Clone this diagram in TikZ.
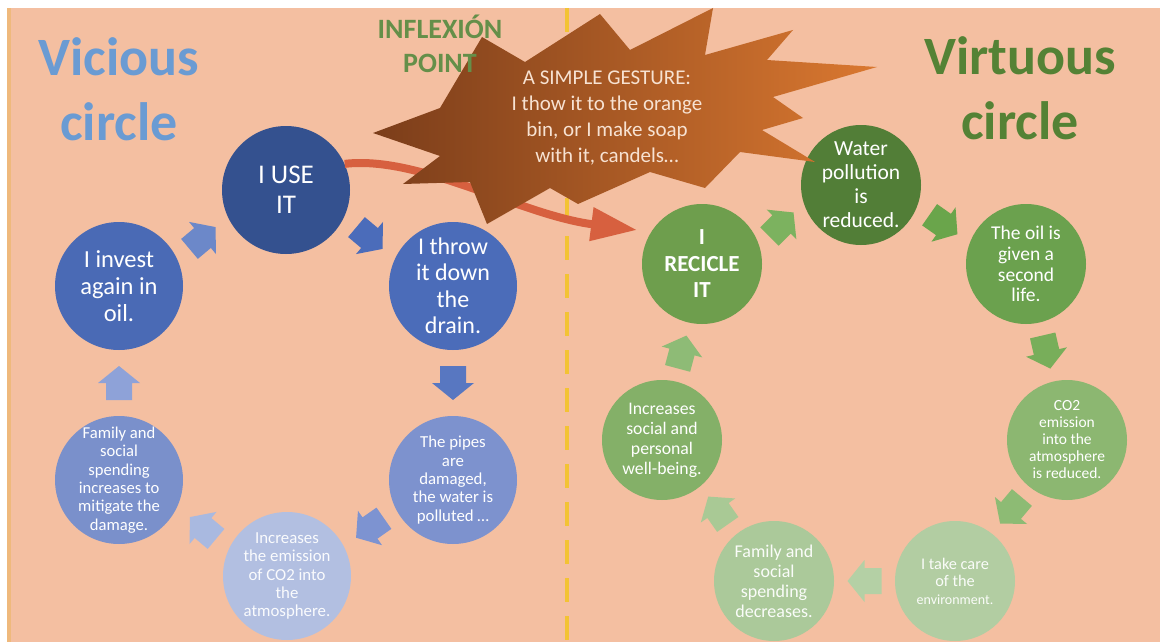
\documentclass[tikz,border=0pt]{standalone}
\usepackage{fontspec}
\setmainfont{Carlito}
\usetikzlibrary{arrows.meta,calc}
\definecolor{bg}{HTML}{F4BFA1}
\definecolor{stripc}{HTML}{EFB97C}
\definecolor{dashc}{HTML}{F3C334}
\definecolor{redc}{HTML}{D7603F}
\definecolor{blueT}{HTML}{6A9BD3}
\definecolor{greenT}{HTML}{548235}
\definecolor{starL}{HTML}{7B3D1A}
\definecolor{starM}{HTML}{B8612A}
\definecolor{starR}{HTML}{DA7830}
\definecolor{starT}{HTML}{F7E2D2}
% left circles
\definecolor{cUse}{HTML}{34518F}
\definecolor{cInv}{HTML}{4A6AB5}
\definecolor{cThr}{HTML}{4B6CB9}
\definecolor{cPip}{HTML}{7D92CE}
\definecolor{cEmi}{HTML}{B2BFE1}
\definecolor{cFam}{HTML}{7A90CB}
\definecolor{aIU}{HTML}{6C88C9}
\definecolor{aUT}{HTML}{4B6CBA}
\definecolor{aTP}{HTML}{5877C1}
\definecolor{aPE}{HTML}{7D93D1}
\definecolor{aEF}{HTML}{A9B9E0}
\definecolor{aFI}{HTML}{8EA2D8}
% right circles
\definecolor{cRec}{HTML}{6E9E4D}
\definecolor{cWat}{HTML}{527E37}
\definecolor{cOil}{HTML}{6BA14E}
\definecolor{cCOt}{HTML}{8CB771}
\definecolor{cTak}{HTML}{B2CDA2}
\definecolor{cFR}{HTML}{ABC99A}
\definecolor{cInc}{HTML}{84B068}
\definecolor{aRW}{HTML}{7CB25F}
\definecolor{aWO}{HTML}{6AA54B}
\definecolor{aOC}{HTML}{78AE5A}
\definecolor{aCT}{HTML}{8DBB74}
\definecolor{aTF}{HTML}{B4D0A5}
\definecolor{aFIr}{HTML}{A9C995}
\definecolor{aIR}{HTML}{8EBB76}

\tikzset{
  bigbub/.style={circle, fill=#1, minimum size=128, inner sep=-30pt, text=white, align=center},
  smallbub/.style={circle, fill=#1, minimum size=120, inner sep=-30pt, text=white, align=center},
  barrow/.pic={\fill[#1] (-17,-13) -- (0,-13) -- (0,-21) -- (17,0) -- (0,21) -- (0,13) -- (-17,13) -- cycle;},
  fs/.style 2 args={font=\fontsize{#1}{#2}\selectfont},
  fsb/.style 2 args={font=\fontsize{#1}{#2}\selectfont\bfseries},
}

\begin{document}
\begin{tikzpicture}[x=1pt,y=-1pt]
\useasboundingbox (0,0) rectangle (1160,642);
\fill[white] (0,0) rectangle (1160,642);
\fill[bg] (7,8) rectangle (1160,642);
\fill[stripc] (7,8) rectangle (11,642);

% dashed divider
\coordinate (dtop) at (567,8);
\coordinate (dbot) at (567,642);
\draw[dashc, line width=4, dash pattern=on 24pt off 14pt] (dtop) -- (dbot);

% left (vicious) circles
\node[bigbub=cUse, fs={27}{30}] (use) at (286,190) {I USE\\IT};
\node[bigbub=cInv, fs={24.5}{27}] (inv) at (119,286) {I invest\\again in\\oil.};
\node[bigbub=cThr, fs={24}{26.5}] (thr) at (453,286) {I throw\\it down\\the\\drain.};
\node[bigbub=cPip, fs={16.8}{18.3}] (pip) at (453,480) {The pipes\\are\\damaged,\\the water is\\polluted \dots};
\node[bigbub=cEmi, fs={16.8}{18.3}, text=white!94!cEmi] (emi) at (287,576) {Increases\\the emission\\of CO2 into\\the\\atmosphere.};
\node[bigbub=cFam, fs={16.6}{18.3}] (fam) at (119,480) {Family and\\social\\spending\\increases to\\mitigate the\\damage.};

% right (virtuous) circles
\node[smallbub=cRec, fsb={23}{26.5}] (rec) at (702,264) {I\\RECICLE\\IT};
\node[smallbub=cWat, fs={21.5}{24}] (wat) at (861,185) {Water\\pollution\\is\\reduced.};
\node[smallbub=cOil, fs={19.5}{20.7}] (oil) at (1026,264) {The oil is\\given a\\second\\life.};
\node[smallbub=cCOt, fs={15.5}{17}] (cot) at (1067,440) {CO2\\emission\\into the\\atmosphere\\is reduced.};
\node[smallbub=cTak, fs={16.3}{17.5}, text=white!94!cTak] (tak) at (955,581) {I take care\\of the\\{\fontsize{14}{17.5}\selectfont environment.}};
\node[smallbub=cFR, fs={18}{20}, text=white!94!cFR] (fre) at (774,581) {Family and\\social\\spending\\decreases.};
\node[smallbub=cInc, fs={17.7}{20}] (inc) at (662,440) {Increases\\social and\\personal\\well-being.};

% block arrows, left cycle
\pic[rotate=40] at ($(inv)!.5!(use)$) {barrow=aIU};
\pic[rotate=-40] at ($(use)!.5!(thr)$) {barrow=aUT};
\pic[rotate=-90] at ($(thr)!.5!(pip)$) {barrow=aTP};
\pic[rotate=215] at ($(pip)!.5!(emi)$) {barrow=aPE};
\pic[rotate=140] at ($(emi)!.5!(fam)$) {barrow=aEF};
\pic[rotate=90] at ($(fam)!.5!(inv)$) {barrow=aFI};

% block arrows, right cycle
\pic[rotate=45] at ($(rec)!.5!(wat)$) {barrow=aRW};
\pic[rotate=-35] at ($(wat)!.5!(oil)$) {barrow=aWO};
\pic[rotate=-77] at ($(oil)!.5!(cot)$) {barrow=aOC};
\pic[rotate=230] at ($(cot)!.5!(tak)$) {barrow=aCT};
\pic[rotate=180] at ($(tak)!.5!(fre)$) {barrow=aTF};
\pic[rotate=125] at ($(fre)!.5!(inc)$) {barrow=aFIr};
\pic[rotate=75] at ($(inc)!.5!(rec)$) {barrow=aIR};

% red curved arrow
\coordinate (redtip) at (637,230);
\draw[redc, line width=8, -{Triangle[length=46pt,width=32pt]}]
  (use.24) .. controls (420,155) and (520,215) .. (redtip);

% starburst
\path[left color=starL, middle color=starM, right color=starR]
  (815,162) -- (740,152) -- (705,188) -- (650,172) -- (578,204) -- (550,188)
  -- (487,224) -- (470,182) -- (403,184) -- (440,156) -- (373,133) -- (440,108)
  -- (482,37) -- (525,62) -- (600,14) -- (630,50) -- (713,8) -- (705,55)
  -- (793,30) -- (767,60) -- (877,67) -- (773,97) -- (803,118) -- (762,130) -- cycle;
\node[fs={21}{26}, text=starT, align=center] (gest) at (607,118)
  {A SIMPLE GESTURE:\\I thow it to the orange\\bin, or I make soap\\with it, candels\dots};

% titles
\node[fsb={54}{65}, text=blueT, align=center] (vic) at (119,89.5) {Vicious\\circle};
\node[fsb={54}{65}, text=greenT, align=center] (vir) at (1020,88.5) {Virtuous\\circle};
\node[fsb={28}{34}, text=greenT!90!white, align=center] (infl) at (440,44) {INFLEXIÓN\\POINT};
\end{tikzpicture}
\end{document}
